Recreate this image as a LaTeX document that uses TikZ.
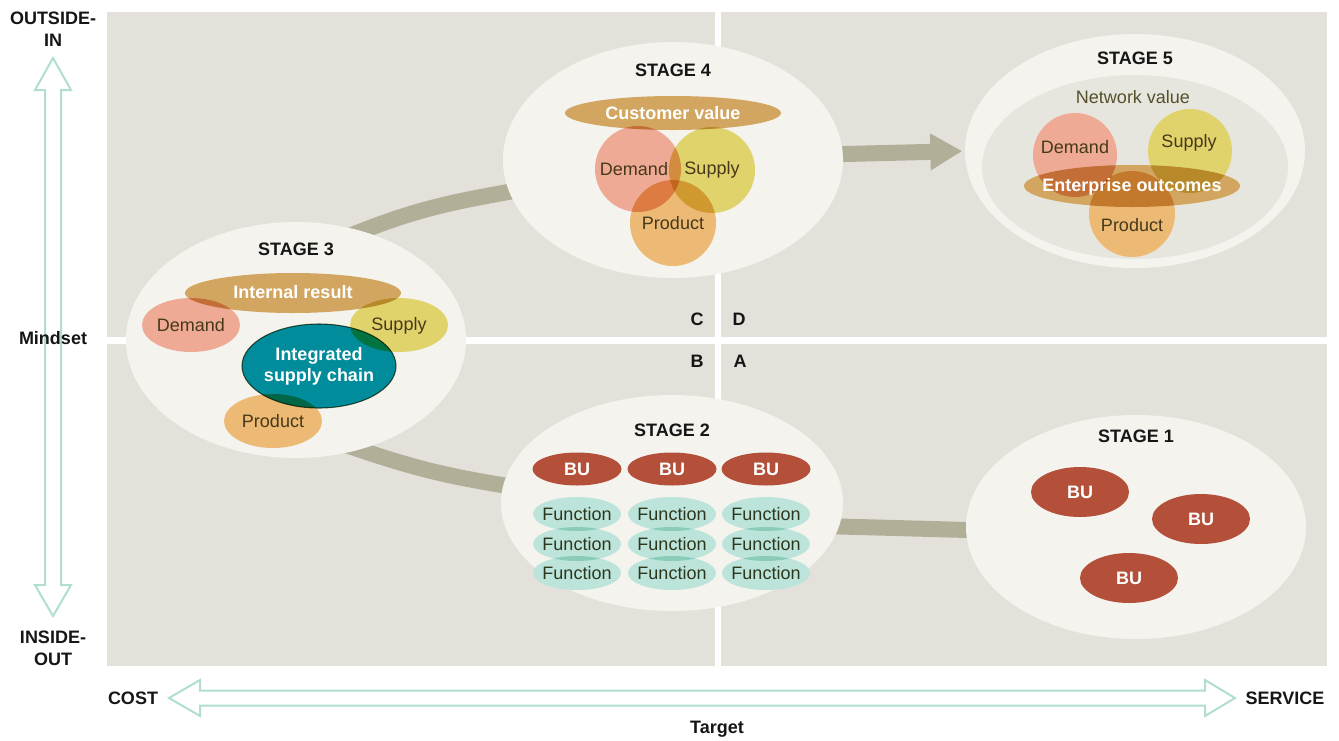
\documentclass[tikz,border=0pt]{standalone}
\usepackage{fontspec}
\setmainfont{Liberation Sans}
\usetikzlibrary{shapes.geometric,arrows.meta}
\pgfdeclarelayer{back}
\pgfdeclarelayer{mid}
\pgfsetlayers{back,mid,main}

\definecolor{panel}{RGB}{227,225,218}
\definecolor{stagefill}{RGB}{244,243,238}
\definecolor{innerfill}{RGB}{231,230,222}
\definecolor{bandcol}{RGB}{178,175,152}
\definecolor{demandcol}{RGB}{238,170,148}
\definecolor{supplycol}{RGB}{224,211,107}
\definecolor{productcol}{RGB}{236,186,116}
\definecolor{goldcol}{RGB}{210,166,96}
\definecolor{tealcol}{RGB}{0,140,155}
\definecolor{tealedge}{RGB}{80,92,62}
\definecolor{bucol}{RGB}{180,80,57}
\definecolor{funccol}{RGB}{188,228,218}
\definecolor{darktext}{RGB}{70,56,26}
\definecolor{olivetext}{RGB}{84,80,42}
\definecolor{functext}{RGB}{45,55,30}
\definecolor{inktext}{RGB}{22,22,22}
\definecolor{axiscol}{RGB}{176,222,208}

\tikzset{
  oval/.style 2 args={ellipse, inner sep=0pt, outer sep=0pt,
    minimum width=#1*1.5pt, minimum height=#2*1.5pt},
  stage/.style={fill=stagefill},
  band/.style={draw=bandcol, line width=12pt},
  txt/.style={font=\fontsize{13.5}{16}\selectfont, text=darktext, inner sep=0pt},
  wtxt/.style={font=\fontsize{13.5}{16}\selectfont\bfseries, text=white, inner sep=0pt, align=center},
  head/.style={font=\fontsize{13.5}{16.5}\selectfont\bfseries, text=inktext, inner sep=0pt, align=center},
  axis/.style={draw=axiscol, line width=1.5pt, fill=white, line join=miter},
}

\begin{document}
\begin{tikzpicture}[x=0.75pt,y=-0.75pt]
\useasboundingbox (0,0) rectangle (1339,740);

% quadrant panels
\begin{pgfonlayer}{back}
  \fill[white] (0,0) rectangle (1339,740);
  \fill[panel] (107,12) rectangle (715,337);
  \fill[panel] (721,12) rectangle (1327,337);
  \fill[panel] (107,344) rectangle (715,666);
  \fill[panel] (721,344) rectangle (1327,666);
\end{pgfonlayer}

% stage bubbles
\node[stage, oval={170}{112}] (s1) at (1136,527) {};
\node[stage, oval={171}{108}] (s2) at (672,503) {};
\node[stage, oval={170}{118}] (s3) at (296,340) {};
\node[stage, oval={170}{118}] (s4) at (673,160) {};
\node[stage, oval={170}{117}] (s5) at (1135,151) {};
\node[fill=innerfill, oval={153}{92}] (s5in) at (1135,167) {};

% path between the stages
\begin{pgfonlayer}{mid}
  \draw[band, shorten <=-10pt, shorten >=-10pt] (s1.181) -- (s2.-8);
  \draw[band, shorten <=-10pt, shorten >=-10pt] (s2.174) to[out=171, in=-19] (s3.-60);
  \draw[band, shorten <=-10pt, shorten >=-10pt] (s3.59) to[out=22, in=190] (s4.191);
  \draw[band, shorten <=-10pt, shorten >=2pt, -{Triangle[length=24pt,width=26pt]}] (s4.2) -- (s5.180);
\end{pgfonlayer}

% stage titles
\node[head] (t1) at (1136,436) {STAGE 1};
\node[head] (t2) at (672,430) {STAGE 2};
\node[head] (t3) at (296,249) {STAGE 3};
\node[head] (t4) at (673,70) {STAGE 4};
\node[head] (t5) at (1135,58) {STAGE 5};

% overlapping shapes
\begin{scope}[blend group=multiply]
  % stage 1
  \node[fill=bucol, oval={49}{25}] (b1a) at (1080,492) {};
  \node[fill=bucol, oval={49}{25}] (b1b) at (1201,519) {};
  \node[fill=bucol, oval={49}{25}] (b1c) at (1129,578) {};
  % stage 2
  \foreach \c/\x in {1/577,2/672,3/766}{
    \node[fill=bucol, oval={44.5}{16.5}] (b2\c) at (\x,469) {};
    \foreach \r/\y in {1/514,2/544,3/573}
      \node[fill=funccol, oval={44}{17}] (f\c\r) at (\x,\y) {};
  }
  % stage 3
  \node[fill=goldcol, oval={108}{20}] (s3ir) at (293,293) {};
  \node[fill=demandcol, oval={49}{27}] (s3dem) at (191,325) {};
  \node[fill=supplycol, oval={49}{27}] (s3sup) at (399,325) {};
  \node[fill=productcol, oval={49}{27}] (s3pro) at (273,421) {};
  \node[fill=tealcol, draw=tealedge, line width=0.8pt, oval={77}{42}] (s3isc) at (319,366) {};
  % stage 4
  \node[fill=goldcol, oval={108}{17}] (s4cv) at (673,113) {};
  \node[fill=demandcol, oval={43}{43}] (s4dem) at (638,169) {};
  \node[fill=supplycol, oval={43}{43}] (s4sup) at (712,170) {};
  \node[fill=productcol, oval={43}{43}] (s4pro) at (673,223) {};
  % stage 5
  \node[fill=demandcol, oval={42}{42}] (s5dem) at (1075,155) {};
  \node[fill=supplycol, oval={42}{42}] (s5sup) at (1190,151) {};
  \node[fill=productcol, oval={43}{43}] (s5pro) at (1132,214) {};
  \node[fill=goldcol, oval={108}{21}] (s5eo) at (1132,186) {};
\end{scope}

% stage 1 labels
\node[wtxt] (l1a) at (b1a) {BU};
\node[wtxt] (l1b) at (b1b) {BU};
\node[wtxt] (l1c) at (b1c) {BU};
% stage 2 labels
\foreach \c in {1,2,3}{
  \node[wtxt] (l2\c) at (b2\c) {BU};
  \foreach \r in {1,2,3}
    \node[txt, text=functext] (lf\c\r) at (f\c\r) {Function};
}
% stage 3 labels
\node[wtxt] (l3ir) at (293,292) {Internal result};
\node[txt] (l3dem) at (s3dem) {Demand};
\node[txt] (l3sup) at (399,326) {Supply};
\node[txt] (l3pro) at (273,421) {Product};
\node[wtxt, font=\fontsize{13.5}{15.75}\selectfont\bfseries] (l3isc) at (319,366.5) {Integrated\\supply chain};
% stage 4 labels
\node[wtxt] (l4cv) at (s4cv) {Customer value};
\node[txt] (l4dem) at (634,169) {Demand};
\node[txt] (l4sup) at (712,170) {Supply};
\node[txt] (l4pro) at (673,223) {Product};
% stage 5 labels
\node[txt, text=olivetext] (l5nv) at (1133,97) {Network value};
\node[txt] (l5dem) at (1075,147) {Demand};
\node[txt] (l5sup) at (1189,143) {Supply};
\node[txt] (l5pro) at (1132,225) {Product};
\node[wtxt] (l5eo) at (1132,187) {Enterprise outcomes};

% quadrant letters
\node[head] (qc) at (697,319) {C};
\node[head] (qd) at (739,319) {D};
\node[head] (qb) at (697,361) {B};
\node[head] (qa) at (740,361) {A};

% mindset axis
\draw[axis] (53,58) -- (71,90) -- (61,90) -- (61,585) -- (71,585) -- (53,616)
  -- (35,585) -- (45,585) -- (45,90) -- (35,90) -- cycle;
\node[head] (oin) at (53,29) {OUTSIDE-\\IN};
\node[head] (mind) at (53,338) {Mindset};
\node[head] (iout) at (53,648) {INSIDE-\\OUT};

% target axis
\draw[axis] (169,698) -- (200,680) -- (200,690.5) -- (1205,690.5) -- (1205,680)
  -- (1235,698) -- (1205,716) -- (1205,705.5) -- (200,705.5) -- (200,716) -- cycle;
\node[head] (cost) at (133,698) {COST};
\node[head] (serv) at (1285,698) {SERVICE};
\node[head] (targ) at (717,729) {Target};
\end{tikzpicture}
\end{document}
